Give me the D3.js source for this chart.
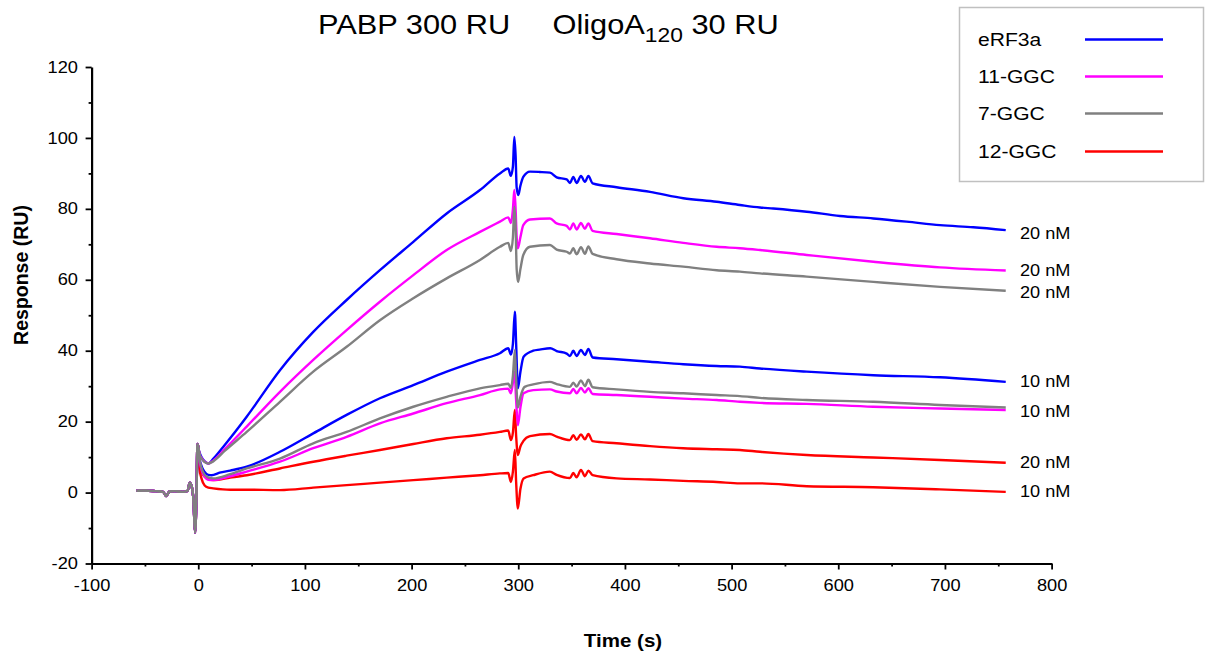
<!DOCTYPE html>
<html>
<head>
<meta charset="utf-8">
<script src="https://cdn.jsdelivr.net/npm/d3@7/dist/d3.min.js"></script>
<style>
html,body{margin:0;padding:0;background:#fff;}
svg{display:block;font-family:"Liberation Sans",Arial,sans-serif;}
</style>
</head>
<body>
<svg id="chart" width="1217" height="661"></svg>
<script>
// ---------------- data ----------------
const xTicks = [-100, 0, 100, 200, 300, 400, 500, 600, 700, 800];
const yTicks = [-20, 0, 20, 40, 60, 80, 100, 120];
const legendNames = ["eRF3a", "11-GGC", "7-GGC", "12-GGC"];
const legendColors = ["#0000ff", "#ff00ff", "#808080", "#ff0000"];
const concLabels = ["20 nM", "20 nM", "20 nM", "10 nM", "10 nM", "20 nM", "10 nM"];
const concValues = [73.3, 62.7, 56.6, 31.5, 22.9, 8.7, 0.5];

// shared pre-injection baseline and injection spike
const baseline = [[-58,0.5],[-50,0.6],[-40,0.4],[-33,0.2],[-30,-1.0],[-27,0.3],[-22,0.4],[-15,0.2],[-10,0.5],[-8,2.8],[-6,1.5],[-4.5,-2],[-3,-11.3],[-1.5,2],[-0.8,13.7],[0.5,12]];

const erf3a20 = [[1,11.5],[3,10],[6,8.8],[9.4,8.2],[14,9.5],[25,13.5],[45.4,21.4],[76.6,34.5],[107.8,45.3],[139.1,54.3],[170.3,62.7],[201.6,70.7],[232.9,78.7],[264.1,85.3],[282.8,90.0],[290.6,91.4],[293,89.3],[295,92],[296.3,100.3],[297.5,95],[298.5,86],[300,83.9],[302,86.5],[304.7,89.0],[311,90.5],[320,90.4],[329.7,90.2],[336,88.9],[345.4,88.3],[348.5,87.3],[351.6,89.0],[354.7,87.3],[358.8,89.3],[362.5,87.6],[365.7,89.3],[369.7,87.2],[392.2,86.1],[423.5,84.8],[454.7,83.0],[486,82.0],[507.8,81.1],[526.6,80.4],[539,80.1],[570.4,79.2],[601.6,78.0],[632.9,77.3],[664.1,76.4],[695.3,75.4],[726.6,74.8],[757,74.0]];
const ggc11_20 = [[1,11],[3,9.8],[6,8.7],[9.4,8.2],[14,9.0],[25,12.3],[45.4,18.6],[76.6,28.4],[107.8,37.4],[139.1,45.8],[170.3,53.8],[201.6,61.3],[232.9,68.4],[264.1,73.5],[282.8,76.4],[290.6,77.6],[293.1,76.0],[295,80],[296.3,85.3],[297.5,80],[298.5,72],[299.6,68.9],[302,72],[304.7,75.4],[311,77.0],[329.7,77.3],[336,75.9],[345.4,75.2],[348.5,74.2],[351.6,75.9],[354.7,74.2],[358.8,76.0],[362.5,74.4],[365.7,75.9],[369.7,73.8],[392.2,72.9],[423.5,71.7],[454.7,70.4],[486,69.3],[507.8,68.9],[526.6,68.4],[570.4,67.0],[632.9,65.1],[695.4,63.5],[757,62.6]];
const ggc7_20 = [[1,11],[3,9.6],[6,8.6],[9.4,8.2],[14,8.8],[25,11.8],[45.4,17.1],[76.6,25.6],[107.8,34.1],[139.1,41.1],[170.3,48.6],[201.6,54.8],[232.9,60.4],[264.1,65.6],[282.8,69.3],[290.6,70.4],[293.1,68.1],[295,72],[296.3,80.6],[297.5,75],[298.5,63],[299.8,59.4],[302,63],[304.7,67.0],[311,69.3],[329.7,69.8],[336,68.5],[345.4,67.9],[348.5,67.4],[351.6,68.9],[354.7,67.2],[358.8,69.2],[362.5,67.3],[365.7,69.4],[369.7,67.3],[392.2,65.8],[423.5,64.6],[454.7,63.7],[486,62.7],[507.8,62.3],[526.6,61.8],[570.4,60.9],[632.9,59.4],[695.4,58.0],[757,56.9]];
const erf3a10 = [[1,10],[3,7.5],[6,5.8],[9.4,5.0],[12.5,4.9],[20,5.6],[30,6.2],[45.4,7.3],[76.6,11.5],[107.8,16.7],[139.1,21.9],[170.3,26.6],[201.6,30.3],[232.9,34.1],[264.1,37.4],[282.8,39.3],[290.6,40.7],[293.1,38.9],[295,42],[296.8,51.0],[298,42],[299.6,29.4],[302,34],[305,38.3],[314,40.0],[320,40.3],[330,40.7],[336,39.9],[345.4,39.2],[348.5,38.5],[351.6,40.0],[354.7,38.5],[358.8,40.2],[362.5,38.8],[365.7,40.5],[369.7,38.1],[392.2,37.6],[423.5,36.9],[454.7,36.2],[486,35.7],[507.8,35.5],[526.6,35.0],[570.4,34.1],[632.9,33.1],[695.4,32.5],[757,31.2]];
const ggc7_10 = [[1,10],[3,7],[6,5],[9.4,4.3],[14,4.0],[30,5.2],[45.4,6.8],[76.6,9.6],[107.8,13.9],[139.1,17.1],[170.3,20.9],[201.6,24.2],[232.9,27.0],[264.1,29.4],[282.8,30.3],[290.6,30.7],[293.1,29.5],[295,33],[296.8,40.2],[298,32],[299.6,24],[302,27],[306,29.8],[314,30.5],[329.7,31.2],[336,30.6],[348.5,29.8],[351.6,31.0],[354.7,29.9],[358.8,31.6],[362.5,30.0],[365.7,31.8],[369.7,29.7],[392.2,29.1],[423.5,28.4],[454.7,28.0],[486,27.5],[507.8,27.2],[526.6,26.7],[570.4,26.1],[632.9,25.6],[695.4,24.7],[757,24.0]];
const ggc11_10 = [[1,10],[3,6.5],[6,4.5],[9.4,3.6],[14,3.5],[30,4.6],[45.4,5.9],[76.6,8.7],[107.8,12.5],[139.1,15.7],[170.3,19.5],[201.6,22.3],[232.9,25.2],[264.1,27.5],[282.8,29.1],[290.6,29.3],[293.1,28.0],[295,31],[296.5,34],[298,26],[299.6,19.0],[302,24],[305,28.0],[314,28.9],[329.7,29.1],[336,28.5],[348.5,28.0],[351.6,29.2],[354.7,28.0],[358.8,29.5],[362.5,28.2],[365.7,29.4],[369.7,27.8],[392.2,27.5],[423.5,27.0],[454.7,26.5],[486,26.1],[507.8,25.6],[526.6,25.3],[570.4,25.0],[632.9,24.2],[695.4,23.7],[757,23.3]];
const ggc12_20 = [[1,9],[3,6],[6,4.5],[9.4,3.8],[14,3.5],[30,4.2],[45.4,4.9],[76.6,6.8],[107.8,8.7],[139.1,10.4],[170.3,12.0],[201.6,13.7],[232.9,15.3],[264.1,16.3],[282.8,17.1],[290.6,17.5],[293.1,14.8],[295,17],[296.8,23.3],[298,16],[299.6,10.6],[302,13],[304.7,14.5],[311,15.9],[329.7,16.5],[336,15.8],[348.5,14.8],[351.6,16.2],[354.7,14.9],[358.8,16.4],[362.5,15.0],[365.7,16.5],[369.7,14.5],[392.2,13.9],[423.5,13.1],[454.7,12.5],[486,12.2],[507.8,12.0],[526.6,11.5],[570.4,10.6],[632.9,9.9],[695.4,9.2],[757,8.4]];
const ggc12_10 = [[1,7],[3,4],[6,2],[9.4,1.4],[14,1.2],[30,0.8],[45.4,0.8],[76.6,0.7],[107.8,1.4],[139.1,2.1],[170.3,2.8],[201.6,3.5],[232.9,4.2],[264.1,4.9],[282.8,5.4],[290.6,5.5],[293.1,3.0],[295,6],[296.8,12.0],[298,3],[299.6,-4.5],[302,1],[305,4.0],[314,4.9],[329.7,5.9],[336,5.0],[348.5,4.1],[351.6,5.5],[354.7,4.3],[358.8,6.4],[362.5,4.6],[365.7,6.2],[369.7,4.9],[392.2,4.0],[423.5,3.7],[454.7,3.3],[486,3.0],[507.8,2.6],[526.6,2.6],[570.4,1.8],[632.9,1.5],[695.4,0.9],[757,0.2]];

// drawing order (bottom to top)
const seriesList = [
  {data: ggc12_10, color: legendColors[3]},
  {data: ggc12_20, color: legendColors[3]},
  {data: erf3a10, color: legendColors[0]},
  {data: erf3a20, color: legendColors[0]},
  {data: ggc11_10, color: legendColors[1]},
  {data: ggc11_20, color: legendColors[1]},
  {data: ggc7_10, color: legendColors[2]},
  {data: ggc7_20, color: legendColors[2]}
];

// ---------------- layout ----------------
const SX = 1.14; // horizontal text stretch of the original
const svg = d3.select("#chart");
const x = d3.scaleLinear().domain([-100, 800]).range([91.6, 1051.6]);
const y = d3.scaleLinear().domain([-20, 120]).range([563.5, 67]);
const fmt = d => String(d); // plain hyphen-minus like the original

// axes
const yMinor = d3.range(-20, 121, 10).filter(v => v % 20 !== 0);
const xMinor = d3.range(-100, 801, 50).filter(v => v % 100 !== 0);

svg.append("g").attr("transform", `translate(${x(-100)},0)`)
  .call(d3.axisLeft(y).tickValues(yMinor).tickSize(3).tickFormat(""))
  .call(g => g.select(".domain").remove())
  .selectAll("line").attr("stroke", "#000").attr("stroke-width", 1.8);
svg.append("g").attr("transform", `translate(0,${y(-20)})`)
  .call(d3.axisBottom(x).tickValues(xMinor).tickSize(3).tickFormat(""))
  .call(g => g.select(".domain").remove())
  .selectAll("line").attr("stroke", "#000").attr("stroke-width", 1.8);

const yAxis = svg.append("g").attr("transform", `translate(${x(-100)},0)`)
  .call(d3.axisLeft(y).tickValues(yTicks).tickFormat(fmt).tickSize(6).tickSizeOuter(0).tickPadding(6));
const xAxis = svg.append("g").attr("transform", `translate(0,${y(-20)})`)
  .call(d3.axisBottom(x).tickValues(xTicks).tickFormat(fmt).tickSize(6).tickSizeOuter(0).tickPadding(10));
[yAxis, xAxis].forEach(g => {
  g.select(".domain").attr("stroke", "#000").attr("stroke-width", 2.2);
  g.selectAll(".tick line").attr("stroke", "#000").attr("stroke-width", 1.8);
  g.selectAll(".tick text").attr("font-size", 16).attr("fill", "#000")
    .attr("font-family", "'Liberation Sans', Arial, sans-serif")
    .attr("transform", `scale(${SX},1)`);
});

// lines
const line = d3.line().x(d => x(d[0])).y(d => y(d[1])).curve(d3.curveMonotoneX);
svg.append("g").selectAll("path").data(seriesList).join("path")
  .attr("d", s => line(baseline.concat(s.data)))
  .attr("fill", "none")
  .attr("stroke", s => s.color)
  .attr("stroke-width", 2.4)
  .attr("stroke-linejoin", "round");

// helper for stretched text
function stext(px, py, str, size, opts = {}) {
  const t = svg.append("text")
    .attr("transform", `translate(${px},${py}) scale(${opts.sx || SX},1)`)
    .attr("font-size", size)
    .attr("fill", "#000")
    .attr("text-anchor", opts.anchor || "start")
    .attr("font-weight", opts.bold ? "bold" : "normal");
  t.text(str);
  return t;
}

// concentration labels (vertically centred on the given value)
concLabels.forEach((lab, i) => {
  stext(1020, y(concValues[i]) + 5.9, lab, 16.5, {sx: 1.1});
});

// title
const title = svg.append("text")
  .attr("transform", `translate(318,33.5) scale(${SX},1)`)
  .attr("font-size", 27).attr("fill", "#000");
title.append("tspan").text("PABP 300 RU");
title.append("tspan").attr("x", (552.5 - 318) / SX).text("OligoA");
title.append("tspan").attr("font-size", 20).attr("dy", 8.5).text("120");
title.append("tspan").attr("dy", -8.5).text(" 30 RU");

// axis titles
stext(623, 647, "Time (s)", 18, {bold: true, anchor: "middle"});
svg.append("text")
  .attr("transform", "translate(27.5,275) rotate(-90)")
  .attr("font-size", 19.5).attr("font-weight", "bold")
  .attr("text-anchor", "middle").attr("fill", "#000")
  .text("Response (RU)");

// legend
svg.append("rect").attr("x", 959.5).attr("y", 7.5).attr("width", 244).attr("height", 174)
  .attr("fill", "#fff").attr("stroke", "#c0c0c0").attr("stroke-width", 1.5);
const legRowY = [39.5, 76.5, 113.5, 151.5];
legendNames.forEach((name, i) => {
  stext(978, legRowY[i] + 6.8, name, 18.5);
  svg.append("line").attr("x1", 1085).attr("x2", 1163)
    .attr("y1", legRowY[i]).attr("y2", legRowY[i])
    .attr("stroke", legendColors[i]).attr("stroke-width", 2.4);
});
</script>
</body>
</html>
